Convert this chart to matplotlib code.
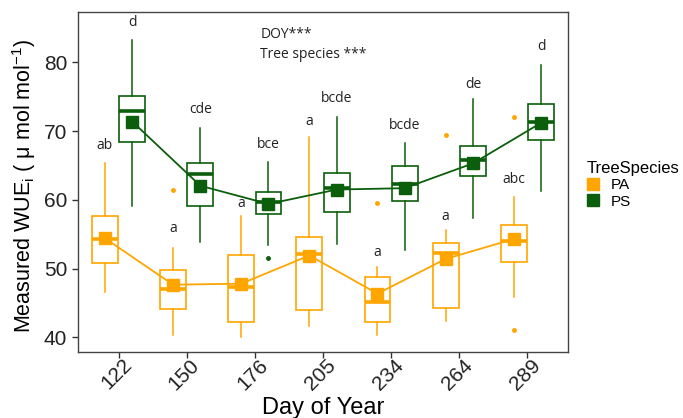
import numpy as np
import matplotlib
matplotlib.use("Agg")
import matplotlib.pyplot as plt
import matplotlib.transforms as mtransforms
from matplotlib.lines import Line2D

plt.rcParams['font.family'] = ['Liberation Sans', 'DejaVu Sans']
plt.rcParams['mathtext.default'] = 'regular'

doy = ['122', '150', '176', '205', '234', '264', '289']

# PA (orange)
pa_q1 = [50.8, 44.1, 42.2, 44.0, 42.2, 44.3, 51.0]
pa_med = [54.25, 47.0, 47.3, 52.1, 45.1, 52.2, 54.0]
pa_q3 = [57.7, 49.75, 52.0, 54.6, 48.7, 53.7, 56.4]
pa_lo = [46.6, 40.4, 40.1, 41.6, 40.3, 42.4, 45.8]
pa_hi = [65.4, 53.0, 57.7, 69.2, 50.2, 55.6, 60.45]
pa_mean = [54.4, 47.65, 47.8, 51.9, 46.35, 51.4, 54.3]
pa_out = [[], [61.5], [], [], [59.6], [69.5], [72.0, 41.1]]
pa_letters = ['ab', 'a', 'a', 'a', 'a', 'a', 'abc']
pa_letter_y = [66.85, 54.8, 58.4, 70.3, 51.2, 56.5, 61.9]

# PS (dark green)
ps_q1 = [68.4, 59.1, 57.9, 58.2, 59.8, 63.5, 68.7]
ps_med = [72.9, 63.7, 59.7, 61.7, 62.3, 65.75, 71.3]
ps_q3 = [75.1, 65.4, 61.2, 63.85, 64.95, 67.9, 73.9]
ps_lo = [59.1, 53.8, 53.4, 53.6, 52.7, 57.3, 61.3]
ps_hi = [83.2, 70.45, 65.55, 72.1, 68.3, 74.7, 79.7]
ps_mean = [71.4, 62.05, 59.4, 61.5, 61.7, 65.3, 71.2]
ps_out = [[], [], [51.6], [], [], [], []]
ps_letters = ['d', 'cde', 'bce', 'bcde', 'bcde', 'de', 'd']
ps_letter_y = [84.7, 72.0, 66.9, 73.65, 69.75, 75.7, 81.2]

orange = '#FFA500'
green = '#0B5E0B'

fig = plt.figure(figsize=(6.83, 4.18), dpi=100)
ax = fig.add_axes([0.1138, 0.157, 0.7182, 0.8136])

x = np.arange(1, len(doy) + 1)
groups = [
    (-0.2, orange, pa_q1, pa_med, pa_q3, pa_lo, pa_hi, pa_mean, pa_out, pa_letters, pa_letter_y),
    (0.2, green, ps_q1, ps_med, ps_q3, ps_lo, ps_hi, ps_mean, ps_out, ps_letters, ps_letter_y),
]

for off, col, q1, med, q3, lo, hi, mean, out, letters, ly in groups:
    stats = []
    for i in range(len(doy)):
        stats.append({'q1': q1[i], 'med': med[i], 'q3': q3[i],
                      'whislo': lo[i], 'whishi': hi[i], 'fliers': out[i]})
    pos = x + off
    ax.bxp(stats, positions=pos, widths=0.38, showcaps=False, patch_artist=True,
           boxprops=dict(facecolor='white', edgecolor=col, linewidth=1.2),
           whiskerprops=dict(color=col, linewidth=1.1),
           medianprops=dict(color=col, linewidth=2.6, solid_capstyle='butt'),
           flierprops=dict(marker='o', markersize=2.5, markerfacecolor=col,
                           markeredgecolor=col, linestyle='none'),
           zorder=2)
    ax.plot(pos, mean, color=col, linewidth=1.3, marker='s', markersize=8,
            markerfacecolor=col, markeredgecolor=col, zorder=3)
    for px, t, yy in zip(pos, letters, ly):
        ax.text(px, yy, t, ha='center', va='bottom', fontsize=10,
                family=['Open Sans', 'DejaVu Sans'], color='#222222')

ax.text(3.08, 84.0, 'DOY***', ha='left', va='center', fontsize=10,
        family=['Open Sans', 'DejaVu Sans'], color='#222222')
ax.text(3.08, 81.1, 'Tree species ***', ha='left', va='center', fontsize=10,
        family=['Open Sans', 'DejaVu Sans'], color='#222222')

ax.set_xlim(0.4, 7.6)
ax.set_ylim(37.8, 87.3)
ax.set_xticks(x)
ax.set_xticklabels(doy, rotation=45, ha='right', va='center', rotation_mode='anchor')
ax.set_yticks([40, 50, 60, 70, 80])
ax.tick_params(axis='both', labelsize=15, color='#333333', length=4, width=1,
               labelcolor='#222222')
ax.tick_params(axis='x', pad=3)
shift = mtransforms.ScaledTranslation(10 / 100, 0, fig.dpi_scale_trans)
for lab in ax.get_xticklabels():
    lab.set_transform(lab.get_transform() + shift)
for s in ax.spines.values():
    s.set_color('#444444')
    s.set_linewidth(1)

ax.set_xlabel('Day of Year', fontsize=17, labelpad=0)
ax.xaxis.set_label_coords(0.5, -0.13)
ax.set_ylabel('Measured WUE$_{i}$ ( \u03bc mol mol$^{-1}$)', fontsize=15.5)
ax.yaxis.set_label_coords(-0.08, 0.49)

handles = [
    Line2D([0], [0], color=orange, marker='s', markersize=9, linewidth=0, label='PA'),
    Line2D([0], [0], color=green, marker='s', markersize=9, linewidth=0, label='PS'),
]
fig.legend(handles=handles, title='TreeSpecies', loc='upper left',
           bbox_to_anchor=(0.843, 0.64), frameon=False, fontsize=11,
           title_fontsize=12, handlelength=0.8, handletextpad=0.8,
           labelspacing=0.15, borderpad=0.2, alignment='left')

fig.savefig('out.png', dpi=100)
